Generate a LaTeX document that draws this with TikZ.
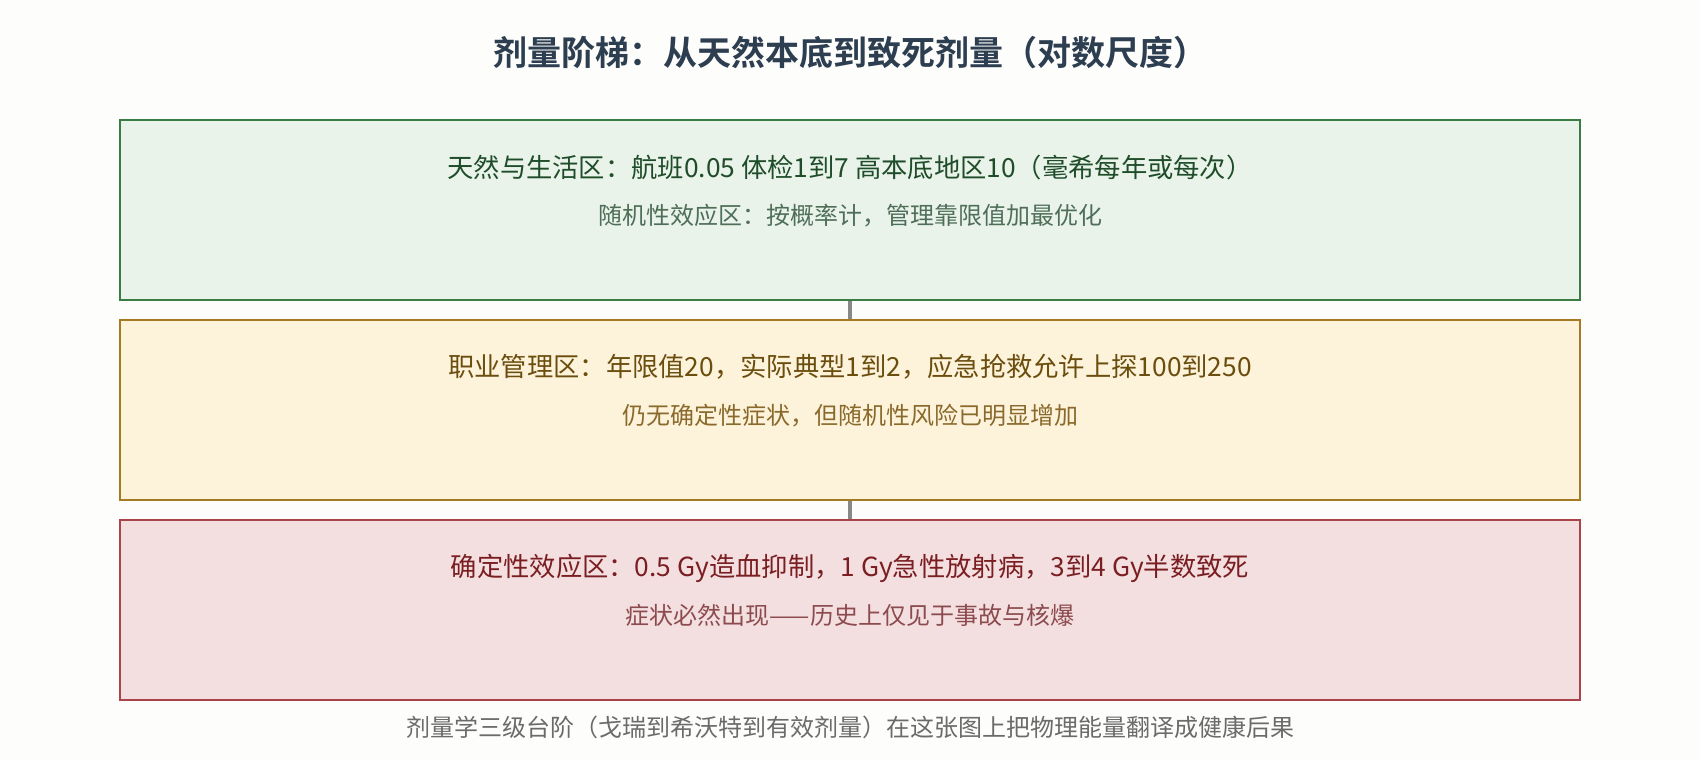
\documentclass[tikz,border=0pt]{standalone}
\usepackage{fontspec}
\setmainfont{Noto Sans CJK SC}
\newfontfamily\cjk{Noto Sans CJK SC}
\newfontfamily\cjkb{Noto Sans CJK SC Bold}
\definecolor{bgc}{HTML}{FDFDFB}
\definecolor{titlec}{HTML}{2C3E50}
\definecolor{gfill}{HTML}{E9F3EA}
\definecolor{gline}{HTML}{3A7D44}
\definecolor{gmain}{HTML}{1F4D2A}
\definecolor{gsub}{HTML}{4F6E58}
\definecolor{yfill}{HTML}{FDF3DA}
\definecolor{yline}{HTML}{A47B22}
\definecolor{ymain}{HTML}{6B4D0E}
\definecolor{ysub}{HTML}{8A6A2C}
\definecolor{rfill}{HTML}{F4DFE0}
\definecolor{rline}{HTML}{A8444A}
\definecolor{rmain}{HTML}{7A1E22}
\definecolor{rsub}{HTML}{8C4B4E}
\definecolor{footc}{HTML}{6B6B6B}
\definecolor{connc}{HTML}{888888}
\tikzset{
  zonebox/.style={draw=#1, line width=2pt, minimum width=1460pt, minimum height=180pt, inner sep=0pt},
  maintext/.style={font=\cjk\fontsize{26.3}{31}\selectfont, inner sep=0pt},
  subtext/.style={font=\cjk\fontsize{24}{28}\selectfont, inner sep=0pt},
  conn/.style={draw=connc, line width=4pt}
}
\begin{document}
\begin{tikzpicture}[x=1pt,y=-1pt]
\fill[bgc] (0,0) rectangle (1700,760);
\useasboundingbox (0,0) rectangle (1700,760);
\node[font=\cjkb\fontsize{34}{40}\selectfont, text=titlec, inner sep=0pt] (title) at (850,53) {剂量阶梯：从天然本底到致死剂量（对数尺度）};
\node[zonebox=gline, fill=gfill] (z1) at (850,210) {};
\node[zonebox=yline, fill=yfill] (z2) at (850,410) {};
\node[zonebox=rline, fill=rfill] (z3) at (850,610) {};
\draw[conn] (z1.south) -- (z2.north);
\draw[conn] (z2.south) -- (z3.north);
\node[maintext, text=gmain] (m1) at (850,168) {天然与生活区：航班0.05 体检1到7 高本底地区10（毫希每年或每次）};
\node[subtext, text=gsub] (s1) at (850,216) {随机性效应区：按概率计，管理靠限值加最优化};
\node[maintext, text=ymain] (m2) at (850,367) {职业管理区：年限值20，实际典型1到2，应急抢救允许上探100到250};
\node[subtext, text=ysub] (s2) at (850,416) {仍无确定性症状，但随机性风险已明显增加};
\node[maintext, text=rmain] (m3) at (850,568) {确定性效应区：0.5 Gy造血抑制，1 Gy急性放射病，3到4 Gy半数致死};
\node[subtext, text=rsub] (s3) at (850,615) {症状必然出现——历史上仅见于事故与核爆};
\node[subtext, text=footc] (foot) at (850,727) {剂量学三级台阶（戈瑞到希沃特到有效剂量）在这张图上把物理能量翻译成健康后果};
\end{tikzpicture}
\end{document}
